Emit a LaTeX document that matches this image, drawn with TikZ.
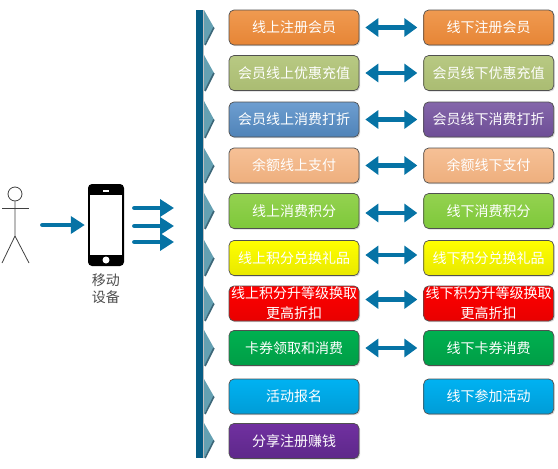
\documentclass[tikz,border=0pt]{standalone}
\usepackage{fontspec}
\newfontfamily\cjk{Noto Sans CJK SC}
\usepackage{tikz}
\usetikzlibrary{arrows.meta, positioning, shadows}

\definecolor{arrowblue}{HTML}{0673A5}
\definecolor{markfill}{HTML}{64A0B2}
\definecolor{markedge}{HTML}{3B6678}
\definecolor{edgegray}{HTML}{505050}

\newcommand{\rowmark}[2]{%
  \fill[markfill] (204,#1) -- (214,{(#1+#2)/2}) -- (204,#2) -- cycle;
  \draw[markedge, line width=1.6pt] (214,{(#1+#2)/2}) -- (205,#2);
}

\begin{document}
\begin{tikzpicture}[
    x=1pt, y=-1pt,
    node distance=1cm and 64pt,
    every node/.style={align=center},
    box/.style={draw=edgegray, line width=.7pt, rounded corners=5pt, minimum width=130pt,
        minimum height=35pt, inner sep=0pt, text=white,
        font=\cjk\fontsize{14}{18}\selectfont,
        drop shadow={shadow xshift=1.2pt, shadow yshift=-1.2pt, opacity=.3}},
    orangebox/.style={box, top color={rgb,255:red,240;green,154;blue,80}, bottom color={rgb,255:red,230;green,133;blue,54}},
    olivebox/.style={box, top color={rgb,255:red,184;green,201;blue,131}, bottom color={rgb,255:red,170;green,188;blue,114}},
    bluebox/.style={box, top color={rgb,255:red,110;green,158;blue,208}, bottom color={rgb,255:red,79;green,131;blue,184}},
    violetbox/.style={box, top color={rgb,255:red,132;green,102;blue,170}, bottom color={rgb,255:red,110;green,78;blue,150}},
    peachbox/.style={box, top color={rgb,255:red,246;green,192;blue,150}, bottom color={rgb,255:red,238;green,175;blue,125}},
    limebox/.style={box, top color={rgb,255:red,148;green,210;blue,80}, bottom color={rgb,255:red,126;green,200;blue,58}},
    yellowbox/.style={box, top color={rgb,255:red,255;green,255;blue,0}, bottom color={rgb,255:red,232;green,232;blue,0}},
    redbox/.style={box, top color={rgb,255:red,255;green,0;blue,0}, bottom color={rgb,255:red,232;green,0;blue,0}},
    greenbox/.style={box, top color={rgb,255:red,0;green,176;blue,80}, bottom color={rgb,255:red,0;green,158;blue,70}},
    cyanbox/.style={box, top color={rgb,255:red,0;green,178;blue,242}, bottom color={rgb,255:red,0;green,156;blue,214}},
    plumbox/.style={box, top color={rgb,255:red,112;green,48;blue,160}, bottom color={rgb,255:red,94;green,40;blue,138}},
    bothway/.style={draw=arrowblue, line width=4.2pt, {Triangle[length=13pt,width=18pt]}-{Triangle[length=13pt,width=18pt]}, shorten <=6pt, shorten >=6pt},
    oneway/.style={draw=arrowblue, line width=4.2pt, line cap=round, -{Triangle[length=14pt,width=17pt]}},
    limb/.style={draw=black!75, line width=.8pt}
]
\useasboundingbox (0,0) rectangle (558,469);

% bar with the row markers
\fill[arrowblue!80!black] (196,10) rectangle (202.5,458);
\fill[black!25] (202.5,10) rectangle (204,458);
\rowmark{10}{45}
\rowmark{55}{91}
\rowmark{101}{138}
\rowmark{148}{183}
\rowmark{193}{229}
\rowmark{240}{276}
\rowmark{286}{321}
\rowmark{330}{366}
\rowmark{379}{414}
\rowmark{423}{458}

% online column
\node[orangebox] (on1) at (294,27.5) {线上注册会员};
\node[olivebox] (on2) at (294,73) {会员线上优惠充值};
\node[bluebox] (on3) at (294,119.5) {会员线上消费打折};
\node[peachbox] (on4) at (294,165.5) {余额线上支付};
\node[limebox] (on5) at (294,211) {线上消费积分};
\node[yellowbox] (on6) at (294,258) {线上积分兑换礼品};
\node[redbox] (on7) at (294,303.5) {线上积分升等级换取\\[2pt]更高折扣};
\node[greenbox] (on8) at (294,348) {卡券领取和消费};
\node[cyanbox] (on9) at (294,396.5) {活动报名};
\node[plumbox] (on10) at (294,441) {分享注册赚钱};

% offline column
\node[orangebox, right=of on1] (off1) {线下注册会员};
\node[olivebox, right=of on2] (off2) {会员线下优惠充值};
\node[violetbox, right=of on3] (off3) {会员线下消费打折};
\node[peachbox, right=of on4] (off4) {余额线下支付};
\node[limebox, right=of on5] (off5) {线下消费积分};
\node[yellowbox, right=of on6] (off6) {线下积分兑换礼品};
\node[redbox, right=of on7] (off7) {线下积分升等级换取\\[2pt]更高折扣};
\node[greenbox, right=of on8] (off8) {线下卡券消费};
\node[cyanbox, right=of on9] (off9) {线下参加活动};

\draw[bothway] (on1) -- (off1);
\draw[bothway] (on2) -- (off2);
\draw[bothway] (on3) -- (off3);
\draw[bothway] (on4) -- (off4);
\draw[bothway] ([yshift=-2pt]on5.east) -- ([yshift=-2pt]off5.west);
\draw[bothway] ([yshift=3pt]on6.east) -- ([yshift=3pt]off6.west);
\draw[bothway] ([yshift=4pt]on7.east) -- ([yshift=4pt]off7.west);
\draw[bothway] (on8) -- (off8);

% person
\node[minimum width=28pt, minimum height=72pt, inner sep=0pt] (person) at (15,228) {};
\node[draw=black!75, line width=.8pt, circle, minimum size=14pt, inner sep=0pt] (head) at (15,194) {};
\draw[limb] (head) -- (15,236) -- (2,263);
\draw[limb] (15,236) -- (29,263);
\draw[limb] (2,208) -- (29,208);

% phone
\node[fill=black, rounded corners=4pt, minimum width=36pt, minimum height=82pt, inner sep=0pt] (phone) at (106,225) {};
\node[fill=white, minimum width=32pt, minimum height=60pt, inner sep=0pt] (screen) at (106,225) {};
\node[fill=white, circle, minimum size=7pt, inner sep=0pt] (homekey) at (106,260) {};
\node[fill=white, minimum width=6pt, minimum height=1.2pt, inner sep=0pt] (speaker) at (106,191) {};
\node[below=7pt of phone, text=black!70, font=\cjk\fontsize{14}{17}\selectfont, inner sep=0pt] (phonelabel) {移动\\设备};

\coordinate (out1) at (174,208);
\coordinate (out2) at (174,226);
\coordinate (out3) at (174,242);

\draw[oneway, shorten <=13pt, shorten >=3pt] (person.east |- phone) -- (phone);
\draw[oneway, shorten <=10pt] (phone.east |- out1) -- (out1);
\draw[oneway, shorten <=10pt] (phone.east |- out2) -- (out2);
\draw[oneway, shorten <=10pt] (phone.east |- out3) -- (out3);
\end{tikzpicture}
\end{document}
